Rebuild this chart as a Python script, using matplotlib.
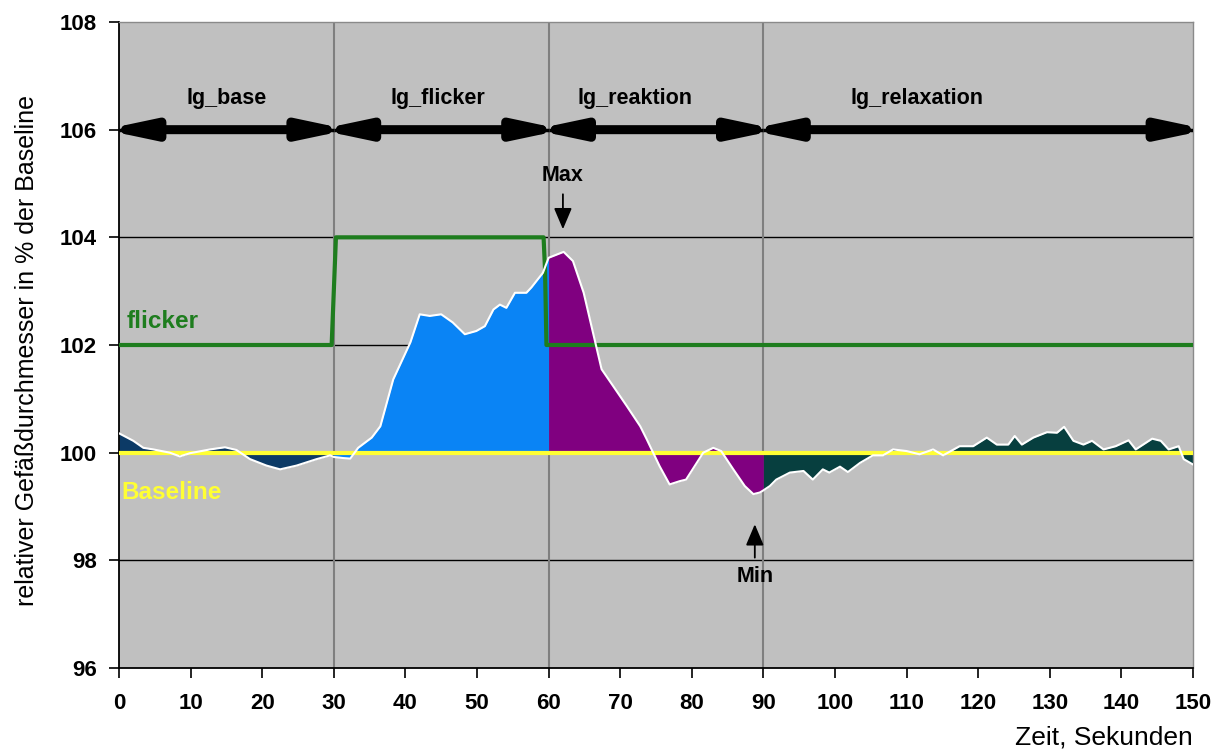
import numpy as np
import matplotlib
matplotlib.use('Agg')
import matplotlib.pyplot as plt

plt.rcParams['font.family'] = ['Liberation Sans', 'DejaVu Sans']

# Zeitverlauf (Sekunden) und relativer Gefaessdurchmesser (%)
zeit = [0, 2.0, 3.4, 4.8, 7.1, 8.5, 9.9, 12.7, 14.8, 16.4, 18.3, 20.6, 22.5, 24.8,
        27.6, 29.5, 30, 31.3, 32.3, 33.4, 35.3, 36.5, 38.3, 40.7, 42.0, 43.4, 45.0,
        46.6, 48.3, 49.9, 51.1, 52.3, 53.2, 54.1, 55.3, 56.9, 57.6, 59.2, 60, 62.1,
        63.4, 64.9, 66.2, 67.4, 69.0, 70.9, 72.8, 73.7, 74.6, 75.5, 76.9, 78.3, 79.2,
        80.4, 81.6, 83.0, 84.1, 85.8, 87.4, 88.6, 89.5, 90, 90.9, 91.8, 93.7, 95.6,
        96.9, 98.3, 99.2, 100.7, 101.8, 103.5, 105.3, 106.7, 108.1, 110.0, 111.8,
        113.7, 115.1, 117.4, 119.3, 121.2, 122.6, 124.2, 125.1, 126.1, 127.7, 129.6,
        131.0, 132.0, 133.3, 134.7, 135.9, 137.5, 139.2, 141.0, 142.0, 144.3, 145.5,
        146.6, 148.0, 148.7, 150]
durchmesser = [100.36, 100.22, 100.09, 100.06, 100.0, 99.93, 99.99, 100.06, 100.1,
               100.05, 99.88, 99.76, 99.69, 99.76, 99.88, 99.95, 99.92, 99.9, 99.89,
               100.09, 100.28, 100.49, 101.36, 102.05, 102.57, 102.54, 102.57, 102.42,
               102.2, 102.26, 102.35, 102.66, 102.75, 102.69, 102.97, 102.97, 103.07,
               103.34, 103.62, 103.73, 103.56, 102.97, 102.23, 101.55, 101.24, 100.87,
               100.49, 100.25, 100.0, 99.75, 99.41, 99.47, 99.5, 99.75, 100.0, 100.09,
               100.03, 99.69, 99.38, 99.23, 99.26, 99.3, 99.38, 99.5, 99.63, 99.66,
               99.5, 99.69, 99.63, 99.74, 99.64, 99.81, 99.95, 99.95, 100.06, 100.03,
               99.97, 100.06, 99.95, 100.12, 100.12, 100.28, 100.15, 100.15, 100.31,
               100.15, 100.28, 100.38, 100.37, 100.48, 100.22, 100.15, 100.22, 100.06,
               100.12, 100.23, 100.06, 100.26, 100.22, 100.06, 100.12, 99.88, 99.78]

flicker_t = [0, 29.7, 30.3, 59.3, 59.5, 59.7, 150]
flicker_v = [102, 102, 104, 104, 103.4, 102, 102]

phasen = ['lg_base', 'lg_flicker', 'lg_reaktion', 'lg_relaxation']
phasen_grenzen = [(0, 30), (30, 60), (60, 90), (90, 150)]
phasen_label_x = [15, 44.6, 72, 111.5]
phasen_farben = ['#0c3a66', '#0a84f5', '#800080', '#073f3f']

baseline = 100

t = np.array(zeit)
v = np.array(durchmesser)

fig = plt.figure(figsize=(12.26, 7.51), dpi=100)
ax = fig.add_axes([119 / 1226, 83 / 751, 1074 / 1226, 646 / 751])
ax.set_facecolor('#c0c0c0')

ax.set_xlim(0, 150)
ax.set_ylim(96, 108)

# Gitter
for y in [98, 102, 104, 106]:
    ax.axhline(y, color='black', lw=1, zorder=1)
for x in [30, 60, 90]:
    ax.axvline(x, color='#7f7f7f', lw=1.5, zorder=1)

# Flaechen je Phase
for (a, b), farbe in zip(phasen_grenzen, phasen_farben):
    m = (t >= a) & (t <= b)
    ax.fill_between(t[m], v[m], baseline, color=farbe, lw=0, zorder=2)

ax.plot(flicker_t, flicker_v, color='#1e7d1e', lw=3, zorder=3)
ax.axhline(baseline, color='#ffff33', lw=3, zorder=3)
ax.plot(t, v, color='white', lw=1.5, zorder=4)

# Phasenpfeile (Spitzen wegen Linienbreite etwas nach aussen versetzt)
for name, (a, b), lx in zip(phasen, phasen_grenzen, phasen_label_x):
    ax.plot([a, b], [106, 106], color='black', lw=2.5, zorder=5,
            solid_capstyle='butt')
    ax.annotate('', xy=(b + 2.1, 106), xytext=(a - 2.1, 106), annotation_clip=False,
                arrowprops=dict(arrowstyle='<|-|>,head_length=2.6,head_width=0.55',
                                mutation_scale=10, lw=6.5, color='black',
                                shrinkA=0, shrinkB=0), zorder=5)
    ax.text(lx, 106.58, name, ha='center', va='center', fontsize=15.5,
            fontweight='bold', zorder=5)

# Max / Min
ax.annotate('Max', xy=(62, 104.15), xytext=(62, 105.15), ha='center', va='center',
            fontsize=15.5, fontweight='bold',
            arrowprops=dict(arrowstyle='-|>,head_length=1.3,head_width=0.55',
                            mutation_scale=10, color='black', lw=1.3,
                            shrinkA=4, shrinkB=0), zorder=5)
ax.annotate('Min', xy=(88.8, 98.67), xytext=(88.8, 97.7), ha='center', va='center',
            fontsize=15.5, fontweight='bold',
            arrowprops=dict(arrowstyle='-|>,head_length=1.3,head_width=0.55',
                            mutation_scale=10, color='black', lw=1.3,
                            shrinkA=4, shrinkB=0), zorder=5)

ax.text(1.0, 102.44, 'flicker', color='#1e7d1e', fontsize=17.5, fontweight='bold',
        va='center', zorder=5)
ax.text(0.4, 99.26, 'Baseline', color='#ffff33', fontsize=17.5, fontweight='bold',
        va='center', zorder=5)

ax.set_xticks(range(0, 151, 10))
ax.set_yticks(range(96, 109, 2))
ax.tick_params(axis='both', direction='out', length=7, width=1.2, labelsize=16)
ax.tick_params(axis='x', pad=11)
ax.tick_params(axis='y', pad=9)
for lab in ax.get_xticklabels() + ax.get_yticklabels():
    lab.set_fontweight('bold')

for s in ['top', 'right']:
    ax.spines[s].set_color('#8a8a8a')
    ax.spines[s].set_linewidth(1)
for s in ['left', 'bottom']:
    ax.spines[s].set_linewidth(1.3)

fig.text(27 / 1226, 1 - 350 / 751, 'relativer Gefäßdurchmesser in % der Baseline',
         rotation=90, ha='center', va='center', fontsize=18)
fig.text(1193 / 1226, 1 - 738 / 751, 'Zeit, Sekunden', ha='right', va='center',
         fontsize=19)

fig.savefig('out.png', dpi=100)
